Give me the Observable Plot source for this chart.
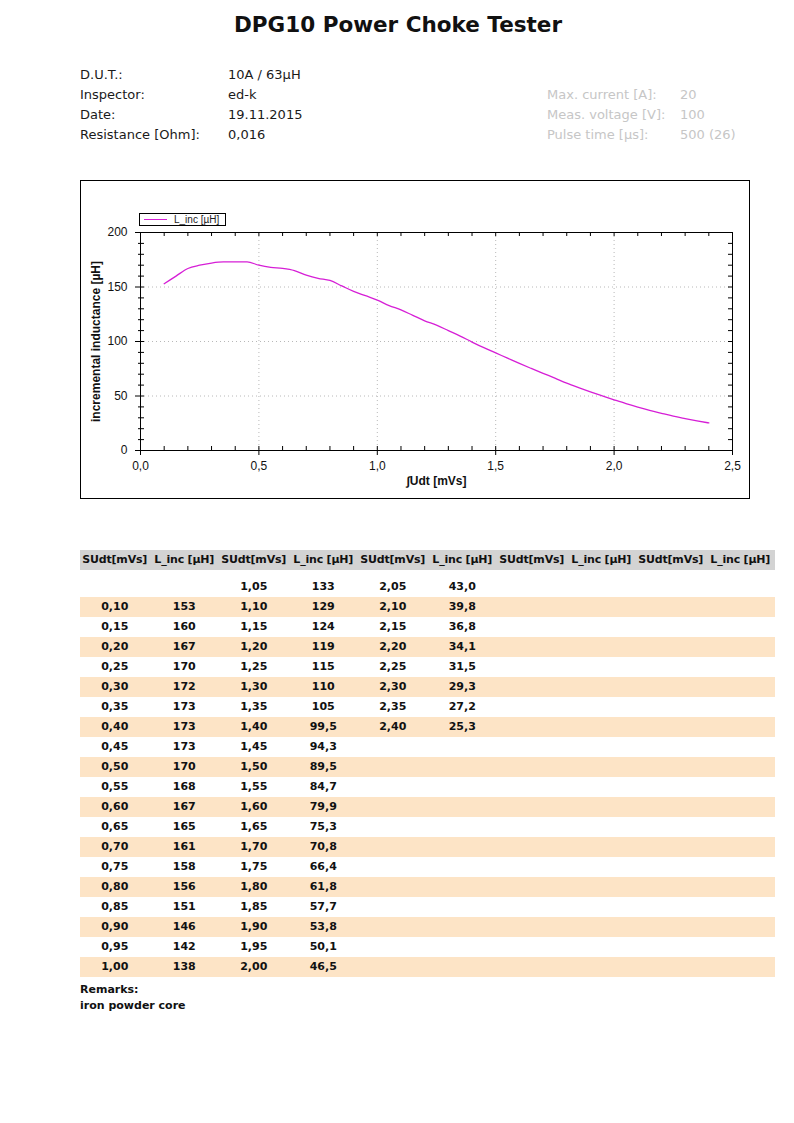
<!DOCTYPE html>
<html><head><meta charset="utf-8">
<script src="https://cdn.jsdelivr.net/npm/d3@7"></script>
<script src="https://cdn.jsdelivr.net/npm/@observablehq/plot@0.6"></script>
<style>
html,body{margin:0;padding:0;background:#fff;}
body{width:794px;height:1123px;position:relative;font-family:"DejaVu Sans",sans-serif;color:#111;}
.abs{position:absolute;white-space:nowrap;}
#title{left:0;width:796px;top:12px;text-align:center;font-weight:bold;font-size:21.5px;line-height:26px;}
.info{font-size:13px;line-height:20px;color:#1a1a1a;}
.info.grey{color:#c6c6c6;}
#chart{left:80px;top:180px;width:670px;height:319px;}
#chart svg{position:absolute;left:0;top:0;outline:1px solid #000;outline-offset:-1px;}
#legend{left:59px;top:33px;width:85px;height:11px;border:1px solid #000;background:#fff;font-family:"Liberation Sans",Arial,sans-serif;font-size:10px;line-height:11px;color:#222;}
#legend .ln{display:block;position:absolute;left:4px;top:5px;width:23px;height:0;border-top:1px solid #d61fd6;}
#legend .tx{position:absolute;left:34px;top:0;}
.cell{position:absolute;text-align:center;font-weight:bold;font-size:11px;line-height:20px;height:20px;}
.band{position:absolute;left:80px;width:695px;height:20px;}
.rem{left:80px;font-weight:bold;font-size:11px;line-height:16px;}
</style></head>
<body>
<div id="title" class="abs">DPG10 Power Choke Tester</div>
<div id="chart" class="abs"></div>
<script>
// ---- data ----
const infoLabels = ["D.U.T.:", "Inspector:", "Date:", "Resistance [Ohm]:"];
const infoValues = ["10A / 63µH", "ed-k", "19.11.2015", "0,016"];
const settingLabels = ["Max. current [A]:", "Meas. voltage [V]:", "Pulse time [µs]:"];
const settingValues = ["20", "100", "500 (26)"];

const udt = [0.10,0.15,0.20,0.25,0.30,0.35,0.40,0.45,0.50,0.55,0.60,0.65,0.70,0.75,0.80,0.85,0.90,0.95,1.00,
  1.05,1.10,1.15,1.20,1.25,1.30,1.35,1.40,1.45,1.50,1.55,1.60,1.65,1.70,1.75,1.80,1.85,1.90,1.95,2.00,
  2.05,2.10,2.15,2.20,2.25,2.30,2.35,2.40];
const linc = [153,160,167,170,172,173,173,173,170,168,167,165,161,158,156,151,146,142,138,
  133,129,124,119,115,110,105,99.5,94.3,89.5,84.7,79.9,75.3,70.8,66.4,61.8,57.7,53.8,50.1,46.5,
  43.0,39.8,36.8,34.1,31.5,29.3,27.2,25.3];

const xTicks = [0, 0.5, 1.0, 1.5, 2.0, 2.5];
const xMinor = [0.1,0.2,0.3,0.4,0.6,0.7,0.8,0.9,1.1,1.2,1.3,1.4,1.6,1.7,1.8,1.9,2.1,2.2,2.3,2.4];
const yTicks = [0, 50, 100, 150, 200];
const yMinor = [10,20,30,40,60,70,80,90,110,120,130,140,160,170,180,190];
const xGrid = [0.5, 1.0, 1.5, 2.0];
const yGrid = [50, 100, 150];

const xLabel = "∫Udt [mVs]";
const yLabel = "incremental inductance [µH]";
const seriesName = "L_inc [µH]";
const colHeaders = ["SUdt[mVs]", "L_inc [µH]"];
const remarksTitle = "Remarks:";
const remarksText = "iron powder core";

// ---- header info ----
const body = document.body;
function addDiv(cls, text, style) {
  const d = document.createElement("div");
  d.className = cls; d.textContent = text; Object.assign(d.style, style); body.appendChild(d); return d;
}
infoLabels.forEach((t, i) => addDiv("abs info", t, {left: "80px", top: (65 + i * 20) + "px"}));
infoValues.forEach((t, i) => addDiv("abs info", t, {left: "228px", top: (65 + i * 20) + "px"}));
settingLabels.forEach((t, i) => addDiv("abs info grey", t, {left: "547px", top: (85 + i * 20) + "px"}));
settingValues.forEach((t, i) => addDiv("abs info grey", t, {left: "680px", top: (85 + i * 20) + "px"}));

// ---- chart ----
const data = udt.map((x, i) => ({x, y: linc[i]}));
const comma = d => d.toFixed(1).replace(".", ",");
const W = 670, H = 319, mL = 60, mR = 18, mT = 52, mB = 49;
const iw = W - mL - mR, ih = H - mT - mB;
const magenta = "#d61fd6";

const chart = Plot.plot({
  width: W, height: H,
  marginLeft: mL, marginRight: mR, marginTop: mT, marginBottom: mB,
  style: {fontFamily: "'Liberation Sans', Arial, sans-serif", fontSize: "12px", color: "#111", background: "#fff"},
  x: {domain: [0, 2.5]},
  y: {domain: [0, 200]},
  marks: [
    Plot.gridX(xGrid, {stroke: "#b8b8b8", strokeOpacity: 1, strokeDasharray: "1,3"}),
    Plot.gridY(yGrid, {stroke: "#b8b8b8", strokeOpacity: 1, strokeDasharray: "1,3"}),
    Plot.frame({stroke: "#000"}),
    Plot.axisX(xTicks, {anchor: "bottom", tickSize: 5, tickPadding: 6, tickFormat: comma, label: null, stroke: "#000"}),
    Plot.axisY(yTicks, {anchor: "left", tickSize: 5, tickPadding: 8, tickFormat: d => String(d), label: null, stroke: "#000"}),
    Plot.axisY(yMinor, {anchor: "left", tickSize: 2, text: null, label: null, stroke: "#000"}),
    Plot.tickX(xTicks.concat(xMinor), {x: d => d, insetTop: ih - 4, stroke: "#000"}),
    Plot.tickX(xTicks.concat(xMinor), {x: d => d, insetBottom: ih - 4, stroke: "#000"}),
    Plot.tickY(yTicks.concat(yMinor), {y: d => d, insetRight: iw - 4, stroke: "#000"}),
    Plot.tickY(yTicks.concat(yMinor), {y: d => d, insetLeft: iw - 4, stroke: "#000"}),
    Plot.line(data, {x: "x", y: "y", stroke: magenta, strokeWidth: 1.3, curve: "monotone-x"}),
    Plot.text([xLabel], {frameAnchor: "bottom", dy: 34, fontWeight: "bold", fontSize: 12, fill: "#111"}),
    Plot.text([yLabel], {frameAnchor: "left", textAnchor: "middle", rotate: -90, dx: -44, fontWeight: "bold", fontSize: 12, fill: "#111"})
  ]
});
const chartDiv = document.getElementById("chart");
chartDiv.appendChild(chart);
const legend = document.createElement("div");
legend.id = "legend"; legend.className = "abs";
legend.innerHTML = '<span class="ln"></span><span class="tx"></span>';
legend.querySelector(".tx").textContent = seriesName;
chartDiv.appendChild(legend);

// ---- table ----
const colW = 69.5, tLeft = 80, headTop = 550, rowTop = 577, rowsPerCol = 20, nGroups = 5;
const fmtX = v => v.toFixed(2).replace(".", ",");
const fmtL = v => (v >= 100 ? v.toFixed(0) : v.toFixed(1)).replace(".", ",");
const hb = document.createElement("div");
hb.className = "band"; Object.assign(hb.style, {top: headTop + "px", background: "#d3d3d3"}); body.appendChild(hb);
for (let r = 0; r < rowsPerCol; r++) {
  if (r % 2 === 1) {
    const b = document.createElement("div");
    b.className = "band"; Object.assign(b.style, {top: (rowTop + r * 20) + "px", background: "#fde4c6"}); body.appendChild(b);
  }
}
for (let g = 0; g < nGroups; g++) {
  colHeaders.forEach((h, j) => {
    addDiv("cell", h, {left: (tLeft + (2 * g + j) * colW) + "px", top: headTop + "px", width: colW + "px", letterSpacing: "-0.2px"});
  });
}
udt.forEach((x, i) => {
  const p = i + 1;
  const g = Math.floor(p / rowsPerCol), r = p % rowsPerCol;
  const top = (rowTop + r * 20) + "px";
  addDiv("cell", fmtX(x), {left: (tLeft + 2 * g * colW) + "px", top, width: colW + "px"});
  addDiv("cell", fmtL(linc[i]), {left: (tLeft + (2 * g + 1) * colW) + "px", top, width: colW + "px"});
});
addDiv("abs rem", remarksTitle, {top: "982px"});
addDiv("abs rem", remarksText, {top: "998px"});
</script>
</body></html>
